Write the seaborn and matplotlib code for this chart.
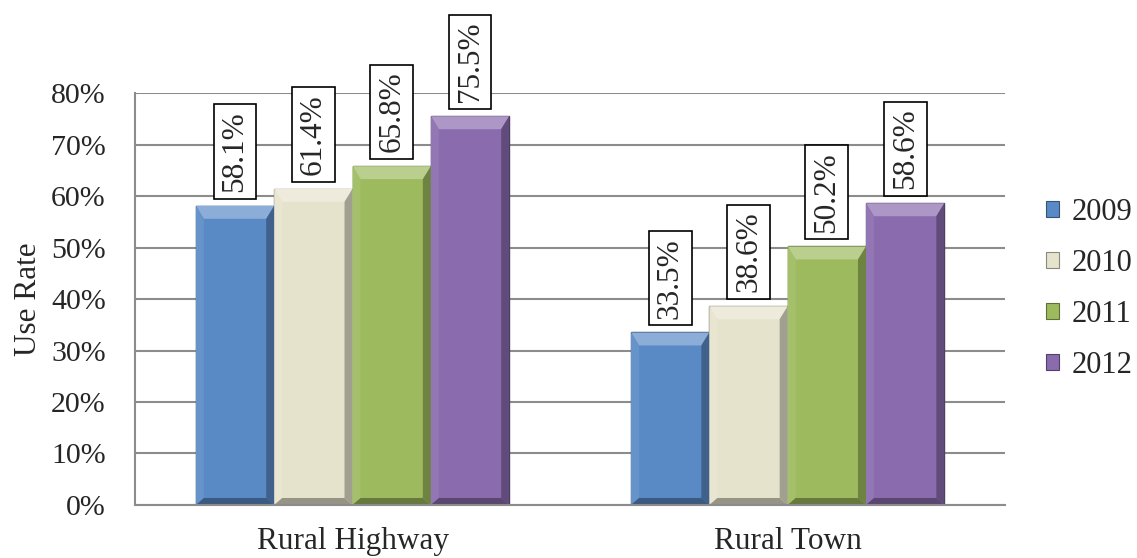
import matplotlib
matplotlib.use("Agg")
import matplotlib.pyplot as plt
import seaborn as sns
import pandas as pd
import numpy as np
from matplotlib.ticker import PercentFormatter, FixedLocator
from matplotlib.patches import Polygon
from matplotlib.colors import to_rgb

categories = ["Rural Highway", "Rural Town"]
years = ["2009", "2010", "2011", "2012"]
rates_2009 = [58.1, 33.5]
rates_2010 = [61.4, 38.6]
rates_2011 = [65.8, 50.2]
rates_2012 = [75.5, 58.6]

colors = ["#5A8AC6", "#E6E3CD", "#9DBB5E", "#8A6BAE"]
edge_colors = ["#2F5585", "#8E8B78", "#5F7A30", "#55407A"]

rows = []
for yr, vals in zip(years, [rates_2009, rates_2010, rates_2011, rates_2012]):
    for c, v in zip(categories, vals):
        rows.append({"Category": c, "Year": yr, "Rate": v})
df = pd.DataFrame(rows)

sns.set_theme(style="white")
plt.rcParams["font.family"] = ["Liberation Serif", "DejaVu Serif"]


def mix(c, other, t):
    a = np.array(to_rgb(c))
    b = np.array(to_rgb(other))
    return tuple(a * (1 - t) + b * t)


fig = plt.figure(figsize=(11.37, 5.58), dpi=100)
ax = fig.add_axes([0.1187, 0.095, 0.7654, 0.7383])

sns.barplot(data=df, x="Category", y="Rate", hue="Year", hue_order=years,
            palette=colors, width=0.72, ax=ax, errorbar=None, saturation=1,
            legend=True)

ax.set_ylim(0, 80)
ax.set_xlim(-0.5, 1.5)

# bevel sizes in pixels -> data units
fig.canvas.draw()
bb = ax.get_window_extent()
px_x = 2.0 / bb.width
px_y = 80.0 / bb.height
bt, bs, bbm = 13 * px_y, 8 * px_x, 7 * px_y

for i, cont in enumerate(ax.containers):
    base = colors[i]
    for p in cont.patches:
        p.set_edgecolor(mix(base, "black", 0.45))
        p.set_linewidth(1.0)
        x0, y0 = p.get_x(), p.get_y()
        w, h = p.get_width(), p.get_height()
        x1, y1 = x0 + w, y0 + h
        z = p.get_zorder() + 0.1
        faces = [
            ([(x0, y1), (x1, y1), (x1 - bs, y1 - bt), (x0 + bs, y1 - bt)], mix(base, "white", 0.30)),
            ([(x0, y0), (x0, y1), (x0 + bs, y1 - bt), (x0 + bs, y0 + bbm)], mix(base, "white", 0.08)),
            ([(x1, y0), (x1, y1), (x1 - bs, y1 - bt), (x1 - bs, y0 + bbm)], mix(base, "black", 0.30)),
            ([(x0, y0), (x1, y0), (x1 - bs, y0 + bbm), (x0 + bs, y0 + bbm)], mix(base, "black", 0.35)),
        ]
        for pts, fc in faces:
            ax.add_patch(Polygon(pts, closed=True, facecolor=fc, lw=0, zorder=z))
    labels = [f"{v:.1f}%" for v in cont.datavalues]
    for p, lab in zip(cont.patches, labels):
        ax.annotate(lab, (p.get_x() + p.get_width() / 2, p.get_height()),
                    xytext=(0, 10), textcoords="offset points",
                    rotation=90, ha="center", va="bottom", fontsize=22.5,
                    annotation_clip=False, zorder=5,
                    bbox=dict(boxstyle="square,pad=0.22", fc="white", ec="black", lw=1.2))

ax.yaxis.set_major_locator(FixedLocator(np.arange(0, 81, 10)))
ax.yaxis.set_major_formatter(PercentFormatter(decimals=0))
ax.grid(axis="y", color="#8C8C8C", lw=1.5)
ax.set_axisbelow(True)
for s in ["top", "right"]:
    ax.spines[s].set_visible(False)
for s in ["left", "bottom"]:
    ax.spines[s].set_color("#8C8C8C")
    ax.spines[s].set_linewidth(1.5)

ax.set_xlabel("")
ax.set_ylabel("Use Rate", fontsize=22.5, labelpad=6)
ax.tick_params(axis="y", labelsize=21.5, length=0, pad=21)
ax.tick_params(axis="x", labelsize=22.5, length=0, pad=16)
ax.set_xticks([-0.5, 0.5, 1.5], minor=True)
ax.tick_params(axis="x", which="minor", length=7, width=1.5, color="#8C8C8C", direction="out")

handles, labs = ax.get_legend_handles_labels()
leg = ax.legend(handles, labs, loc="center left", bbox_to_anchor=(1.047, 0.524),
                frameon=False, fontsize=22, handlelength=0.42, handleheight=0.42,
                handletextpad=0.4, labelspacing=0.72, borderaxespad=0, borderpad=0)
for h, c in zip(leg.legend_handles, colors):
    h.set_edgecolor(mix(c, "black", 0.4))
    h.set_linewidth(0.8)

fig.savefig("out.png", dpi=100)
